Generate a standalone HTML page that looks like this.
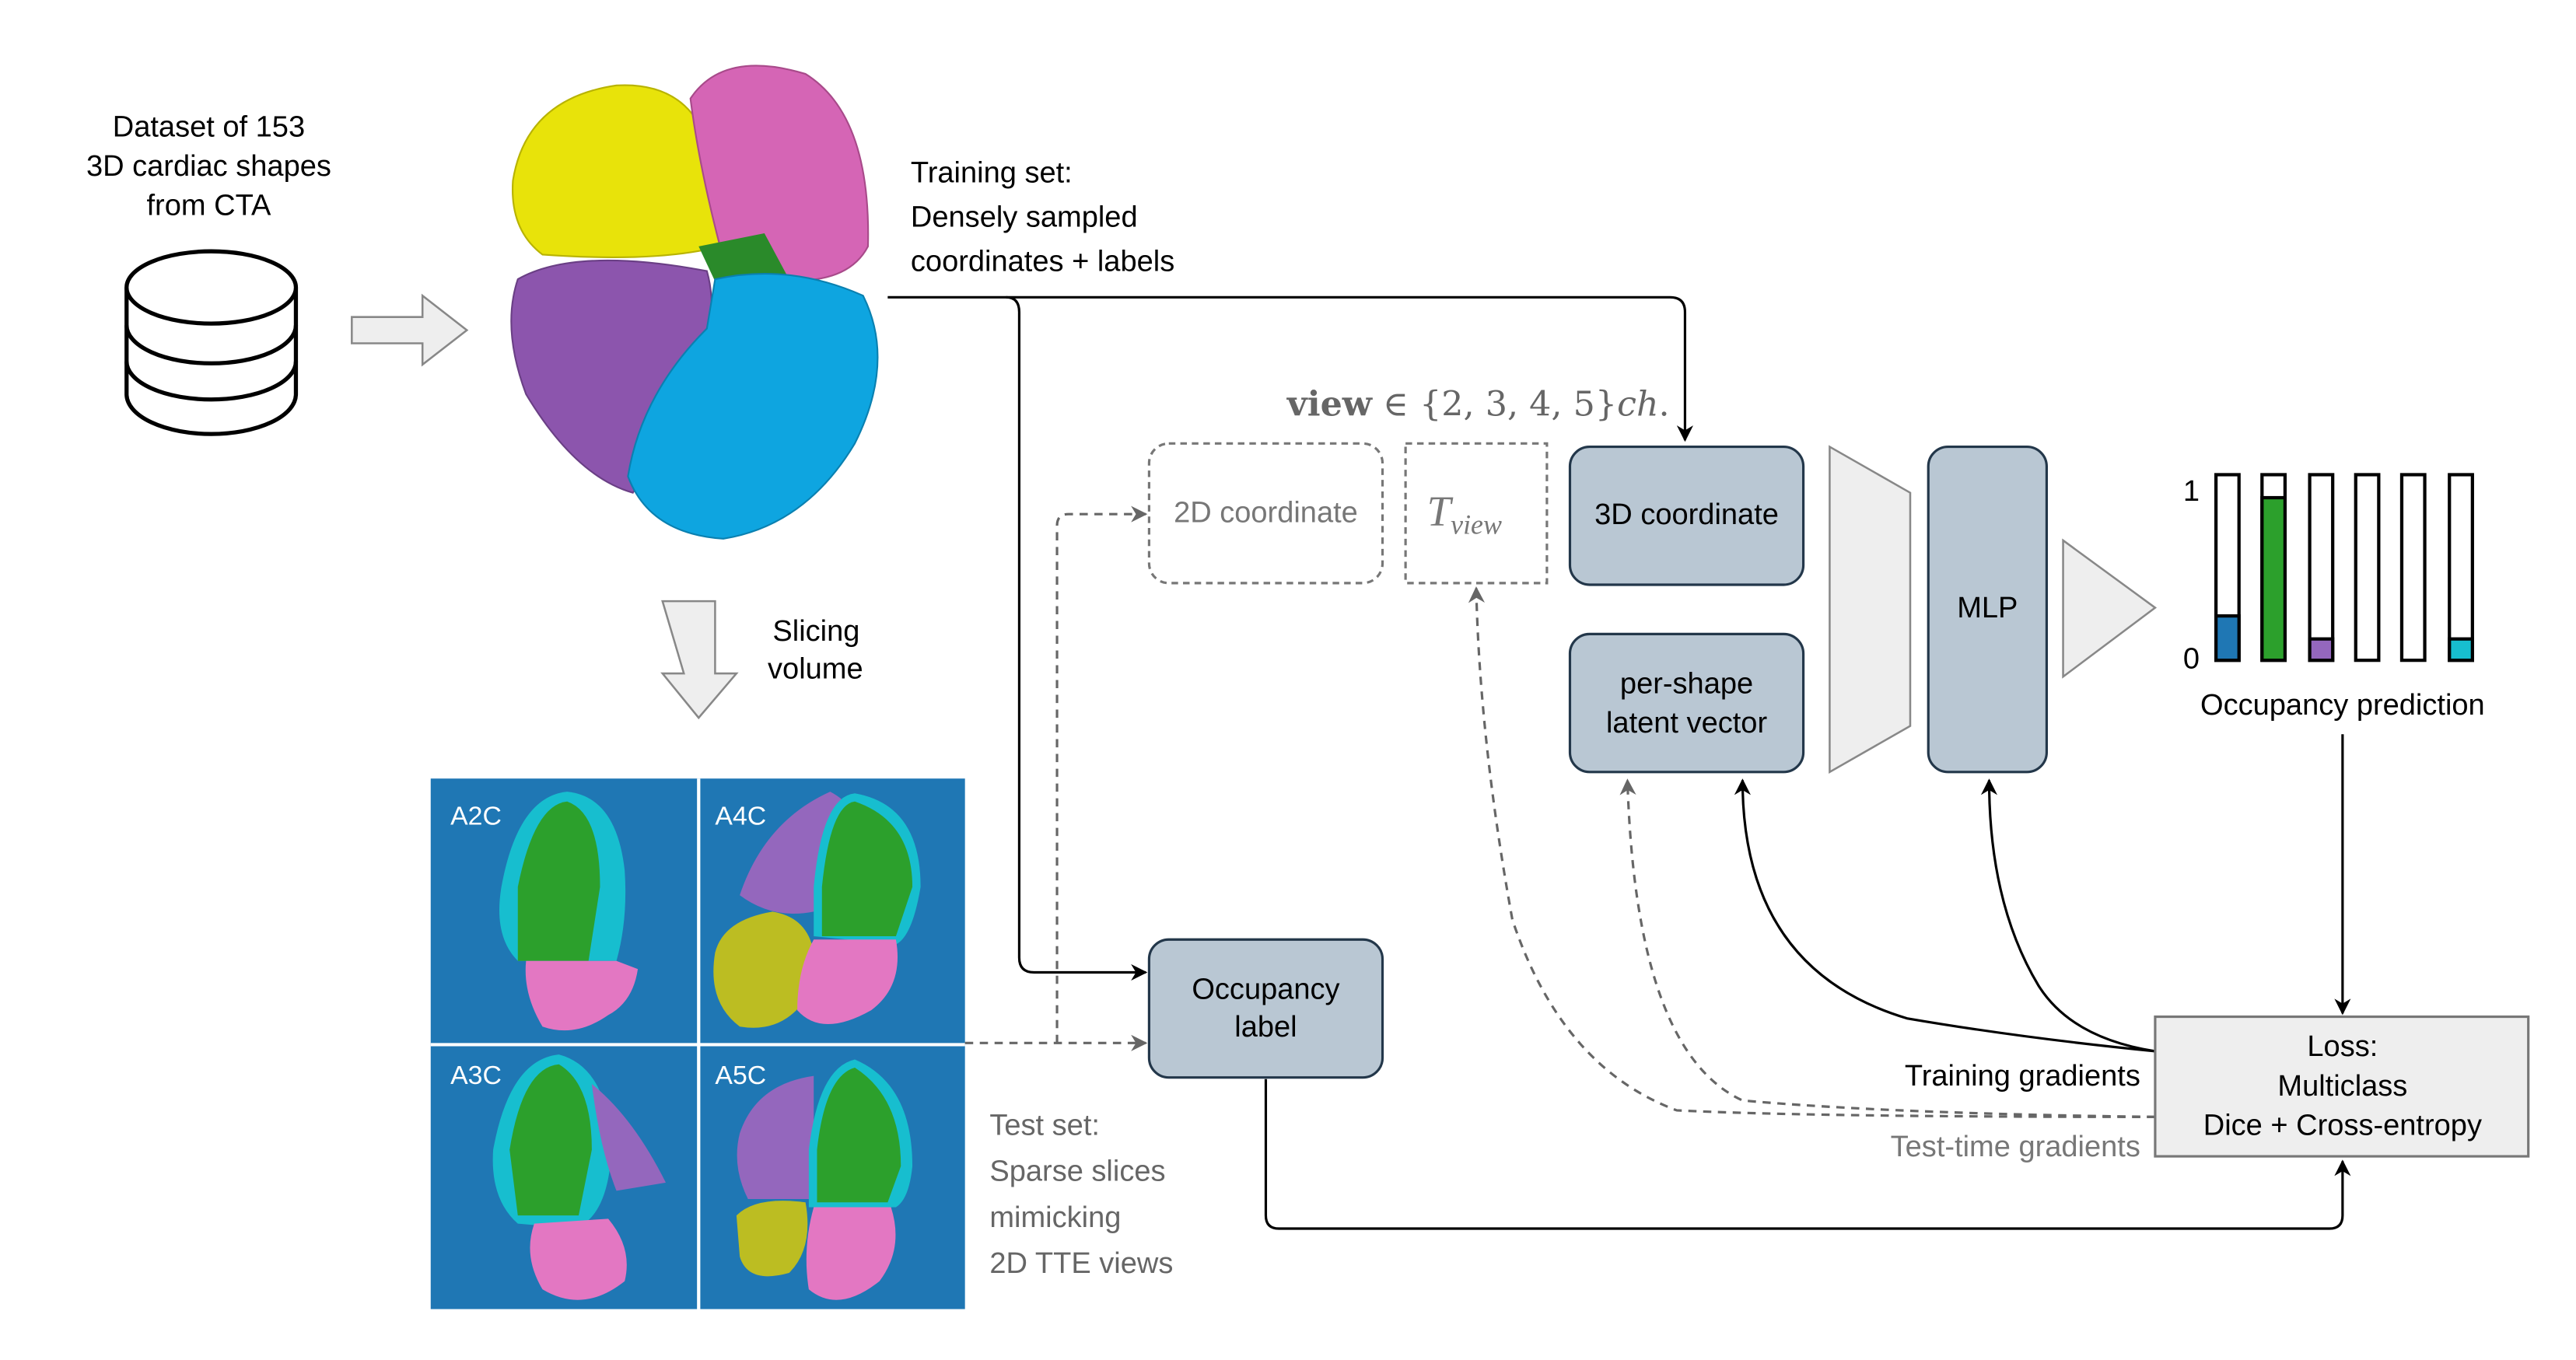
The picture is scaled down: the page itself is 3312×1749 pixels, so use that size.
<!DOCTYPE html>
<html><head><meta charset="utf-8"><style>html,body{margin:0;padding:0;background:#fff}svg{display:block}</style></head><body>
<svg width="3312" height="1749" viewBox="0 0 1567 828" preserveAspectRatio="none" xmlns="http://www.w3.org/2000/svg" font-family="Liberation Sans, sans-serif">
<defs>
<marker id="ab" markerWidth="10" markerHeight="10" refX="9" refY="5" orient="auto" markerUnits="userSpaceOnUse"><path d="M0,0 L10,5 L0,10 L3,5z" fill="#000"/></marker>
<marker id="ag" markerWidth="10" markerHeight="10" refX="9" refY="5" orient="auto" markerUnits="userSpaceOnUse"><path d="M0,0 L10,5 L0,10 L3,5z" fill="#666"/></marker>
</defs>
<g font-size="18" text-anchor="middle" fill="#000">
<text x="127" y="83">Dataset of 153</text><text x="127" y="107">3D cardiac shapes</text><text x="127" y="131">from CTA</text>
</g>
<g fill="#fff" stroke="#000" stroke-width="2.5">
<path d="M77,175 V240 A51,24 0 0 0 180,240 V175"/>
<ellipse cx="128.5" cy="175" rx="51.5" ry="22"/>
<path d="M77,198 A51,23 0 0 0 180,198" fill="none"/>
<path d="M77,220 A51,23 0 0 0 180,220" fill="none"/>
</g>
<path d="M214,193 H257 V180 L284,201 L257,222 V209 H214z" fill="#eee" stroke="#888" stroke-width="1.2"/>
<path d="M403,366 H435 V410 H448 L425,437 L403,410 H416z" fill="#eee" stroke="#888" stroke-width="1.2"/>
<!-- heart -->
<path d="M312,110 Q320,60 375,52 Q410,50 425,75 L438,150 Q400,160 330,155 Q310,140 312,110z" fill="#e8e30a" stroke="#b8b300"/>
<path d="M420,60 Q440,30 490,45 Q530,70 528,150 Q515,175 470,170 L438,150 Q425,100 420,60z" fill="#d565b5" stroke="#a84a8a"/>
<path d="M425,150 L465,142 L480,170 L440,182z" fill="#2a8a2a"/>
<path d="M315,170 Q350,150 430,165 Q440,200 415,250 L385,300 Q350,290 320,240 Q305,200 315,170z" fill="#8c55ad" stroke="#6a3f85"/>
<path d="M435,170 Q480,160 525,180 Q545,220 520,270 Q490,320 440,328 Q395,325 382,290 Q390,240 430,200z" fill="#0ea5e0" stroke="#0a80b0"/>
<text x="470" y="390" font-size="18">Slicing</text><text x="467" y="413" font-size="18">volume</text>
<g font-size="18"><text x="554" y="111">Training set:</text><text x="554" y="138">Densely sampled</text><text x="554" y="165">coordinates + labels</text></g>
<!-- slices -->
<rect x="262" y="474" width="325" height="323" fill="#1f77b4"/>
<path d="M425,474 V797 M262,636 H587" stroke="#fff" stroke-width="2"/>
<g font-size="16" fill="#fff"><text x="274" y="502">A2C</text><text x="435" y="502">A4C</text><text x="274" y="660">A3C</text><text x="435" y="660">A5C</text></g>
<path d="M305,540 Q315,485 345,482 Q375,485 380,530 Q382,560 375,585 L315,585 Q300,570 305,540z" fill="#17becf"/>
<path d="M315,540 Q325,490 345,488 Q365,495 365,540 L358,585 L315,585z" fill="#2ca02c"/>
<path d="M320,585 L375,585 L388,590 Q385,610 370,618 Q350,632 330,625 Q318,605 320,585z" fill="#e377c2"/>
<path d="M450,545 Q465,500 505,482 Q530,495 520,530 L495,555 Q470,560 450,545z" fill="#9467bd"/>
<path d="M495,540 Q500,485 520,483 Q560,490 560,540 Q555,570 545,575 L495,570z" fill="#17becf"/>
<path d="M500,540 Q505,490 520,488 Q555,500 555,540 L545,570 L500,570z" fill="#2ca02c"/>
<path d="M435,580 Q440,560 470,555 Q500,560 495,600 Q480,630 450,625 Q430,610 435,580z" fill="#bcbd22"/>
<path d="M495,572 L545,572 Q550,600 530,615 Q500,632 485,615 Q485,590 495,572z" fill="#e377c2"/>
<path d="M300,700 Q310,645 340,642 Q370,650 372,700 Q370,740 350,748 L315,745 Q298,730 300,700z" fill="#17becf"/>
<path d="M310,700 Q318,650 340,648 Q360,660 360,700 L352,740 L315,740z" fill="#2ca02c"/>
<path d="M360,660 Q385,680 405,720 L375,725 Q365,700 360,660z" fill="#9467bd"/>
<path d="M325,745 L370,742 Q385,760 380,780 Q355,800 330,785 Q318,765 325,745z" fill="#e377c2"/>
<path d="M450,690 Q460,660 495,655 L495,730 L455,730 Q445,710 450,690z" fill="#9467bd"/>
<path d="M492,700 Q498,650 520,645 Q555,660 555,710 Q553,730 545,735 L492,735z" fill="#17becf"/>
<path d="M497,700 Q502,655 520,650 Q548,668 548,710 L540,732 L497,732z" fill="#2ca02c"/>
<path d="M448,740 Q460,728 490,732 Q495,760 480,775 Q455,782 450,765z" fill="#bcbd22"/>
<path d="M495,735 L542,735 Q550,760 535,780 Q510,800 492,785 Q488,760 495,735z" fill="#e377c2"/>
<g font-size="18" fill="#666"><text x="602" y="691">Test set:</text><text x="602" y="719">Sparse slices</text><text x="602" y="747">mimicking</text><text x="602" y="775">2D TTE views</text></g>
<!-- connectors -->
<g fill="none" stroke="#000" stroke-width="1.5">
<path d="M540,181 H1016 Q1025,181 1025,190 V268" marker-end="url(#ab)"/>
<path d="M612,181 Q620,181 620,190 V583 Q620,592 629,592 H697" marker-end="url(#ab)"/>
<path d="M770,657 V740 Q770,748 778,748 H1417 Q1425,748 1425,740 V707" marker-end="url(#ab)"/>
<path d="M1425,447 V617" marker-end="url(#ab)"/>
<path d="M1311,640 Q1230,632 1160,620 Q1060,590 1060,475" marker-end="url(#ab)"/>
<path d="M1311,640 Q1260,632 1240,600 Q1210,550 1210,475" marker-end="url(#ab)"/>
</g>
<g fill="none" stroke="#666" stroke-width="1.5" stroke-dasharray="5,4">
<path d="M587,635 H697" marker-end="url(#ag)"/>
<path d="M643,635 V320 Q643,313 650,313 H697" marker-end="url(#ag)"/>
<path d="M1311,680 Q1150,678 1060,670 Q995,640 990,475" marker-end="url(#ag)"/>
<path d="M1311,680 Q1100,680 1020,676 Q950,650 920,560 Q900,450 898,358" marker-end="url(#ag)"/>
</g>
<text x="783" y="253" font-family="DejaVu Serif, Liberation Serif, serif" font-size="21" fill="#666"><tspan font-weight="bold">view</tspan> ∈ {2, 3, 4, 5}<tspan font-style="italic">ch</tspan>.</text>
<rect x="699" y="270" width="142" height="85" rx="12" fill="none" stroke="#777" stroke-width="1.5" stroke-dasharray="4,3"/>
<text x="770" y="318" font-size="18" fill="#777" text-anchor="middle">2D coordinate</text>
<rect x="855" y="270" width="86" height="85" fill="none" stroke="#777" stroke-width="1.5" stroke-dasharray="4,3"/>
<text x="868" y="320" font-family="Liberation Serif, serif" font-style="italic" font-size="26" fill="#777">T<tspan font-size="17" dy="5">view</tspan></text>
<g fill="#b9c7d3" stroke="#23374a" stroke-width="1.5">
<rect x="955" y="272" width="142" height="84" rx="12"/>
<rect x="955" y="386" width="142" height="84" rx="12"/>
<rect x="1173" y="272" width="72" height="198" rx="12"/>
<rect x="699" y="572" width="142" height="84" rx="12"/>
</g>
<g font-size="18" text-anchor="middle">
<text x="1026" y="319">3D coordinate</text>
<text x="1026" y="422">per-shape</text><text x="1026" y="446">latent vector</text>
<text x="1209" y="376">MLP</text>
<text x="770" y="608">Occupancy</text><text x="770" y="631">label</text>
</g>
<path d="M1113,272 L1162,300 V442 L1113,470z" fill="#eee" stroke="#888" stroke-width="1.2"/>
<path d="M1255,329 L1311,370 L1255,412z" fill="#eee" stroke="#888" stroke-width="1.2"/>
<g stroke="#000" stroke-width="2">
<rect x="1348" y="289" width="14" height="113" fill="#fff"/><rect x="1348" y="375" width="14" height="27" fill="#1f77b4"/>
<rect x="1376" y="289" width="14" height="113" fill="#fff"/><rect x="1376" y="303" width="14" height="99" fill="#2ca02c"/>
<rect x="1405" y="289" width="14" height="113" fill="#fff"/><rect x="1405" y="389" width="14" height="13" fill="#9467bd"/>
<rect x="1433" y="289" width="14" height="113" fill="#fff"/>
<rect x="1461" y="289" width="14" height="113" fill="#fff"/>
<rect x="1490" y="289" width="14" height="113" fill="#fff"/><rect x="1490" y="389" width="14" height="13" fill="#17becf"/>
</g>
<g font-size="18"><text x="1328" y="305">1</text><text x="1328" y="407">0</text>
<text x="1425" y="435" text-anchor="middle">Occupancy prediction</text></g>
<rect x="1311" y="619" width="227" height="85" fill="#eee" stroke="#777" stroke-width="1.5"/>
<g font-size="18" text-anchor="middle"><text x="1425" y="643">Loss:</text><text x="1425" y="667">Multiclass</text><text x="1425" y="691">Dice + Cross-entropy</text></g>
<text x="1302" y="661" font-size="18" text-anchor="end">Training gradients</text>
<text x="1302" y="704" font-size="18" text-anchor="end" fill="#777">Test-time gradients</text>
</svg>
</body></html>
